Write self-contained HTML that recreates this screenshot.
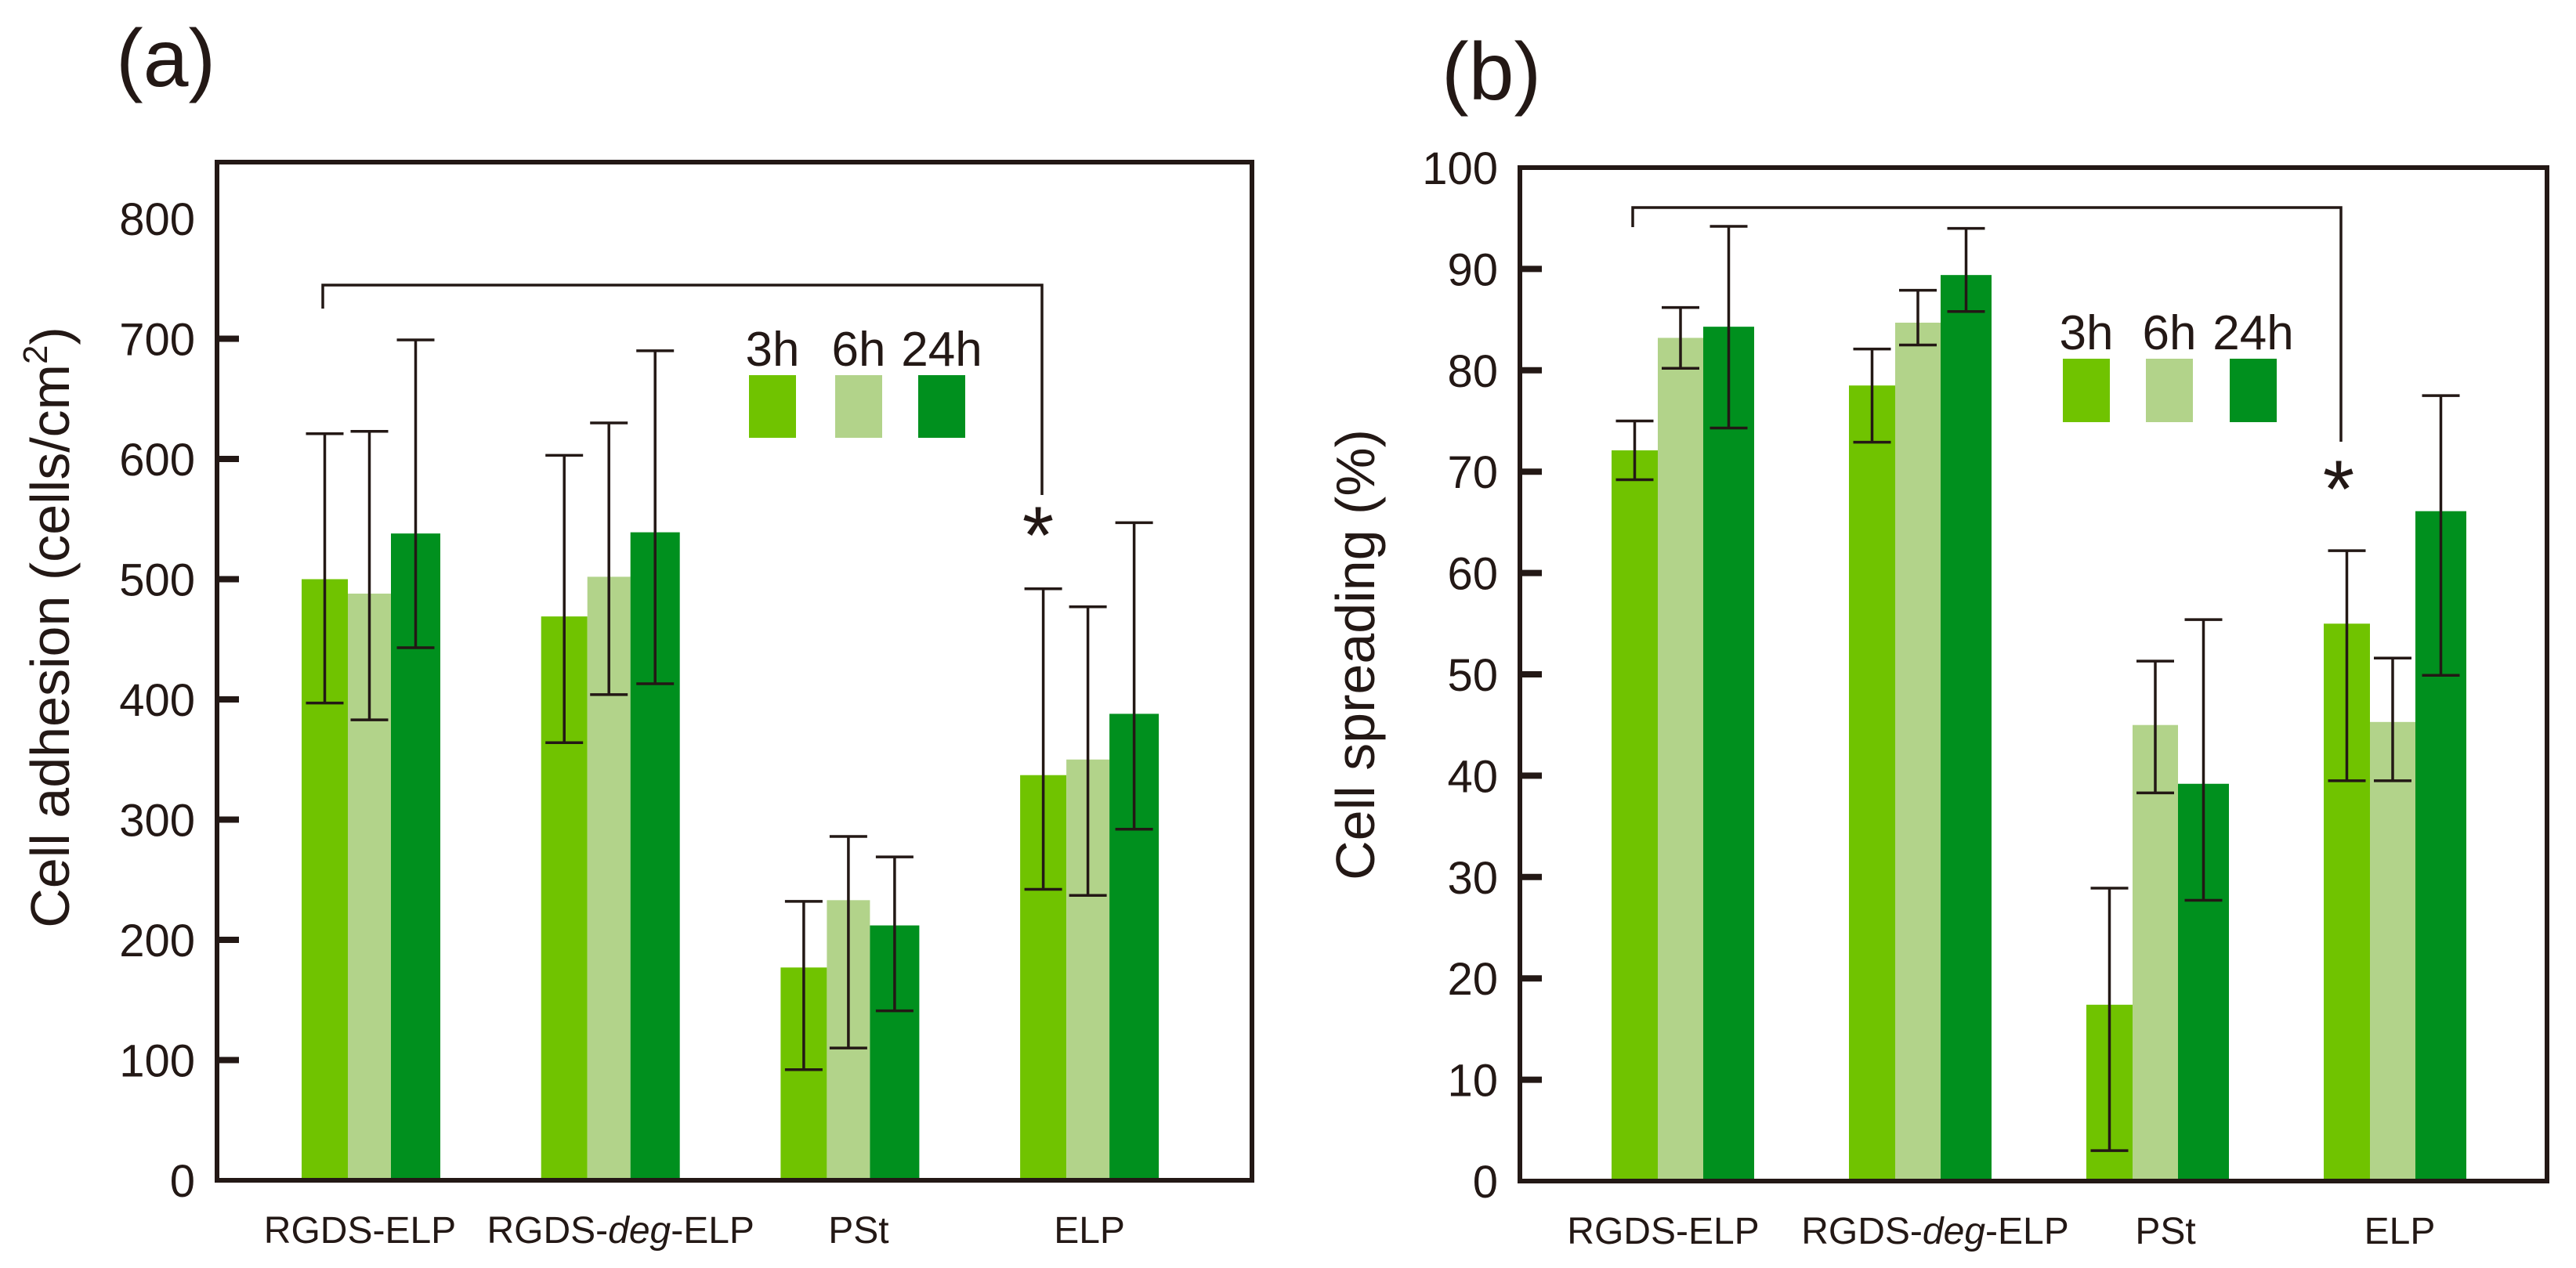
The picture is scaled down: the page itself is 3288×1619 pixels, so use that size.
<!DOCTYPE html>
<html><head><meta charset="utf-8"><style>
html,body{margin:0;padding:0;background:#fff}
svg{display:block;font-family:"Liberation Sans",Arial,sans-serif}
</style></head><body>
<svg id="chart" width="3288" height="1619" viewBox="0 0 3288 1619" xmlns="http://www.w3.org/2000/svg">
<text x="148" y="110" font-size="104" fill="#231815">(a)</text>
<text x="1840" y="127" font-size="104" fill="#231815">(b)</text>
<g id="pa"></g>
<g id="pb"></g>
</svg>
<script>
const categories = ["RGDS-ELP", "RGDS-deg-ELP", "PSt", "ELP"];
const seriesNames = ["3h", "6h", "24h"];
const seriesColors = ["#70c300", "#b2d38a", "#00901e"];
// panel a: cell adhesion (cells/cm2)
const adh3h = [500, 469, 177, 337];
const adh6h = [488, 502, 233, 350];
const adh24h = [538, 539, 212, 388];
const adhHi3h = [621, 603, 232, 492];
const adhHi6h = [623, 630, 286, 477];
const adhHi24h = [699, 690, 269, 547];
const adhLo3h = [397, 364, 92, 242];
const adhLo6h = [383, 404, 110, 237];
const adhLo24h = [443, 413, 141, 292];
const adhTicks = [0, 100, 200, 300, 400, 500, 600, 700, 800];
// panel b: cell spreading (%)
const spr3h = [72.1, 78.5, 17.4, 55.0];
const spr6h = [83.2, 84.7, 45.0, 45.3];
const spr24h = [84.3, 89.4, 39.2, 66.1];
const sprHi3h = [75.0, 82.1, 28.9, 62.2];
const sprHi6h = [86.2, 87.9, 51.3, 51.6];
const sprHi24h = [94.2, 94.0, 55.4, 77.5];
const sprLo3h = [69.2, 72.9, 3.0, 39.5];
const sprLo6h = [80.2, 82.5, 38.3, 39.5];
const sprLo24h = [74.3, 85.8, 27.7, 49.9];
const sprTicks = [0, 10, 20, 30, 40, 50, 60, 70, 80, 90, 100];

const NS = "http://www.w3.org/2000/svg";
const INK = "#231815";
function mk(parent, tag, attrs, text) {
  const el = document.createElementNS(NS, tag);
  for (const k in attrs) el.setAttribute(k, attrs[k]);
  if (text !== undefined) el.textContent = text;
  parent.appendChild(el);
  return el;
}

function drawPanel(g, cfg) {
  const yScale = v => cfg.y0 - (v - cfg.vmin) / (cfg.vmax - cfg.vmin) * (cfg.y0 - cfg.yTop);
  const groupX = i => cfg.gx0 + i * cfg.gStep;
  const barOff = [0, cfg.bw[0], cfg.bw[0] + cfg.bw[1]];
  for (let i = 0; i < categories.length; i++) {
    for (let s = 0; s < 3; s++) {
      const v = cfg.vals[s][i];
      const x = groupX(i) + barOff[s];
      const r = mk(g, "rect", {x: x, y: yScale(v), width: cfg.bw[s], height: cfg.y0 - yScale(v), fill: seriesColors[s]});
      
      
    }
  }
  for (let i = 0; i < categories.length; i++) {
    for (let s = 0; s < 3; s++) {
      const cx = groupX(i) + barOff[s] + cfg.bw[s] / 2;
      const hi = yScale(cfg.hi[s][i]), lo = yScale(cfg.lo[s][i]);
      const e = mk(g, "path", {d: `M${cx},${hi}V${lo}M${cx-24},${hi}H${cx+24}M${cx-24},${lo}H${cx+24}`, stroke: INK, "stroke-width": 3.5, fill: "none"});
      
      
    }
  }
  const f = mk(g, "rect", {x: cfg.xL, y: cfg.yTop0, width: cfg.xR - cfg.xL, height: cfg.y0 - cfg.yTop0, fill: "none", stroke: INK, "stroke-width": 6});
  
  
  cfg.ticks.forEach(t => {
    const y = yScale(t);
    if (t !== cfg.vmin && t !== cfg.vmax) {
      const tk = mk(g, "line", {x1: cfg.xL, x2: cfg.xL + 28, y1: y, y2: y, stroke: INK, "stroke-width": 8});
      
      
    }
    const tl = mk(g, "text", {x: cfg.xL - 28, y: y + 21, "font-size": 58, "text-anchor": "end", fill: INK}, String(t));
    
    
  });
  categories.forEach((c, i) => {
    const cx = groupX(i) + (cfg.bw[0] + cfg.bw[1] + cfg.bw[2]) / 2 + cfg.lblOff[i];
    const t = mk(g, "text", {x: cx, y: cfg.y0 + 80, "font-size": 48, "text-anchor": "middle", fill: INK});
    if (c === "RGDS-deg-ELP") {
      mk(t, "tspan", {}, "RGDS-");
      mk(t, "tspan", {"font-style": "italic"}, "deg");
      mk(t, "tspan", {}, "-ELP");
    } else t.textContent = c;
    
    
  });
  const yt = mk(g, "text", {x: 0, y: 0, "font-size": 70, "text-anchor": "middle", fill: INK, transform: `translate(${cfg.ytX},${cfg.ytY}) rotate(-90)`});
  if (cfg.sup) {
    mk(yt, "tspan", {}, cfg.title);
    mk(yt, "tspan", {"font-size": 44, dy: -28}, "2");
    mk(yt, "tspan", {dy: 28}, ")");
  } else yt.textContent = cfg.title;
  
  
  const br = mk(g, "path", {d: `M${cfg.br[0]},${cfg.br[2]}V${cfg.br[1]}H${cfg.br[3]}V${cfg.br[4]}`, stroke: INK, "stroke-width": 3.5, fill: "none"});
  
  
  const st = mk(g, "text", {x: cfg.star[0], y: cfg.star[1] + 50, "font-size": 104, "text-anchor": "middle", fill: INK}, "*");
  
  
  seriesNames.forEach((n, s) => {
    const lx = cfg.leg[s];
    const sw = mk(g, "rect", {x: lx, y: cfg.legY, width: cfg.legW, height: cfg.legH, fill: seriesColors[s]});
    
    
    const lt = mk(g, "text", {x: lx + cfg.legW / 2, y: cfg.legY - 12, "font-size": 62, "text-anchor": "middle", fill: INK}, n);
    
    
  });
}

drawPanel(document.getElementById("pa"), {
  vals: [adh3h, adh6h, adh24h], hi: [adhHi3h, adhHi6h, adhHi24h], lo: [adhLo3h, adhLo6h, adhLo24h],
  ticks: adhTicks, vmin: 0, vmax: 800, y0: 1507, yTop: 279, yTop0: 207, xL: 277, xR: 1598,
  gx0: 385, gStep: 305.7, bw: [59, 55, 63], lblOff: [-14, 13, 11, 0],
  title: "Cell adhesion (cells/cm", sup: true, ytX: 88, ytY: 801,
  br: [412, 364, 394, 1330, 632], star: [1325, 669],
  leg: [956, 1066, 1172], legY: 479, legW: 60, legH: 80
});
drawPanel(document.getElementById("pb"), {
  vals: [spr3h, spr6h, spr24h], hi: [sprHi3h, sprHi6h, sprHi24h], lo: [sprLo3h, sprLo6h, sprLo24h],
  ticks: sprTicks, vmin: 0, vmax: 100, y0: 1508, yTop: 214, yTop0: 214, xL: 1940, xR: 3251,
  gx0: 2057, gStep: 303, bw: [59, 58, 65], lblOff: [-25, 19, 10, 6],
  title: "Cell spreading (%)", sup: false, ytX: 1754, ytY: 836,
  br: [2084, 265, 290, 2988, 564], star: [2985, 610],
  leg: [2633, 2739, 2846], legY: 458, legW: 60, legH: 81
});
</script>
</body></html>
